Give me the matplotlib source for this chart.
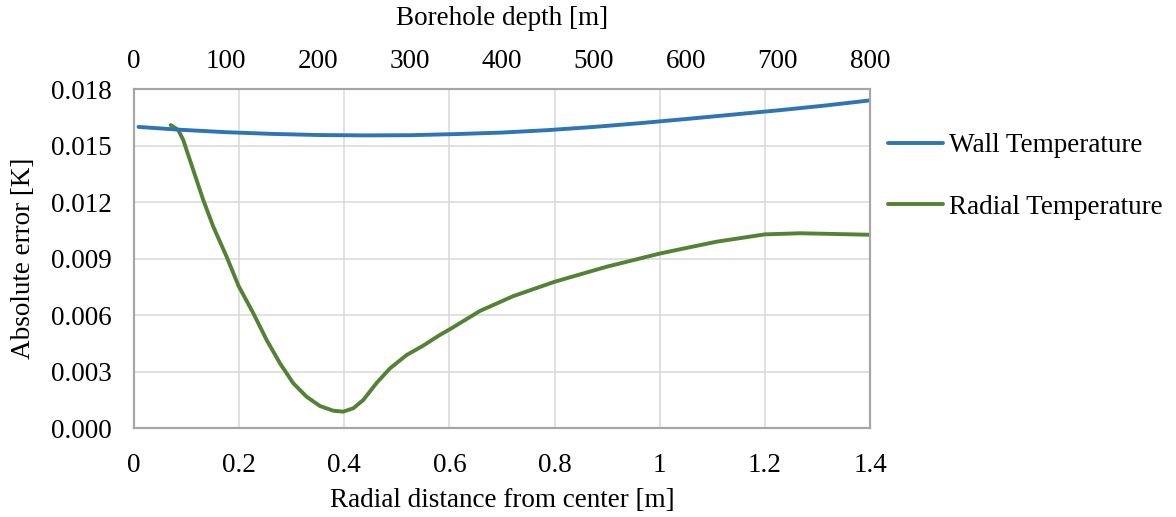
import matplotlib
matplotlib.use("Agg")
from matplotlib import pyplot as plt

# Wall temperature error vs borehole depth (top axis)
depth = [5, 50, 100, 150, 200, 250, 300, 350, 400, 450, 500, 550, 600, 650, 700, 750, 800]
wall_err = [0.01600, 0.01585, 0.01572, 0.01563, 0.01557, 0.01555, 0.01556, 0.01562, 0.01570,
            0.01583, 0.01600, 0.01620, 0.01642, 0.01665, 0.01688, 0.01713, 0.01741]

# Radial temperature error vs radial distance (bottom axis)
radius = [0.0698, 0.0843, 0.0938, 0.1128, 0.1318, 0.1509, 0.1763, 0.1990, 0.2270, 0.2524,
          0.2777, 0.3030, 0.3285, 0.3538, 0.3791, 0.3981, 0.4172, 0.4362, 0.4617, 0.4870,
          0.5187, 0.5503, 0.5821, 0.6010, 0.6580, 0.7215, 0.8010, 0.8990, 1.0000, 1.0390,
          1.1080, 1.2000, 1.2670, 1.4000]
radial_err = [0.01610, 0.01584, 0.01530, 0.01371, 0.01212, 0.01070, 0.00910, 0.00755, 0.00610,
              0.00468, 0.00344, 0.00238, 0.00166, 0.00117, 0.00092, 0.00087, 0.00105, 0.00149,
              0.00240, 0.00317, 0.00388, 0.00438, 0.00495, 0.00525, 0.00622, 0.00701, 0.00778,
              0.00857, 0.00927, 0.00950, 0.00990, 0.01029, 0.01035, 0.01027]

yticks = [0, 0.003, 0.006, 0.009, 0.012, 0.015, 0.018]
xticks = [0, 0.2, 0.4, 0.6, 0.8, 1.0, 1.2, 1.4]
xlabels = ["0", "0.2", "0.4", "0.6", "0.8", "1", "1.2", "1.4"]
dticks = [0, 100, 200, 300, 400, 500, 600, 700, 800]

BLUE = "#2e75b6"
GREEN = "#548235"
FS = 19.5

plt.rcParams["font.family"] = ["Liberation Serif", "DejaVu Serif"]
plt.rcParams["font.size"] = FS

fig = plt.figure(figsize=(11.76, 5.17), dpi=100)
ax = fig.add_axes([0.1139, 0.1721, 0.6259, 0.6552])
ax2 = ax.twiny()

l2, = ax.plot(radius, radial_err, color=GREEN, linewidth=2.8, label="Radial Temperature",
              solid_capstyle="round", solid_joinstyle="round")
l1, = ax2.plot(depth, wall_err, color=BLUE, linewidth=2.8, label="Wall Temperature",
               solid_capstyle="round", solid_joinstyle="round")

ax.set_xlim(0, 1.4)
ax.set_ylim(0, 0.018)
ax2.set_xlim(0, 800)

ax.set_xticks(xticks)
ax.set_xticklabels(xlabels)
ax.set_yticks(yticks)
ax.set_yticklabels(["%.3f" % v for v in yticks])
ax2.set_xticks(dticks)

ax.grid(axis="both", color="#d9d9d9", linewidth=1.1)
ax.set_axisbelow(True)

for a in (ax, ax2):
    for s in a.spines.values():
        s.set_color("#a6a6a6")
        s.set_linewidth(1.5)

ax.tick_params(axis="x", length=0, pad=18)
ax.tick_params(axis="y", length=0, pad=16)
ax2.tick_params(axis="x", length=0, pad=11)

ax.set_xlabel("Radial distance from center [m]", labelpad=7)
ax.set_ylabel("Absolute error [K]", labelpad=11)
ax2.set_xlabel("Borehole depth [m]", labelpad=17)

fig.legend(handles=[l1, l2], loc="upper left", bbox_to_anchor=(0.7555, 0.742),
           frameon=False, borderpad=0, borderaxespad=0, handlelength=2.0,
           handletextpad=0.25, labelspacing=1.35, fontsize=FS)

plt.savefig("out.png", dpi=100)
